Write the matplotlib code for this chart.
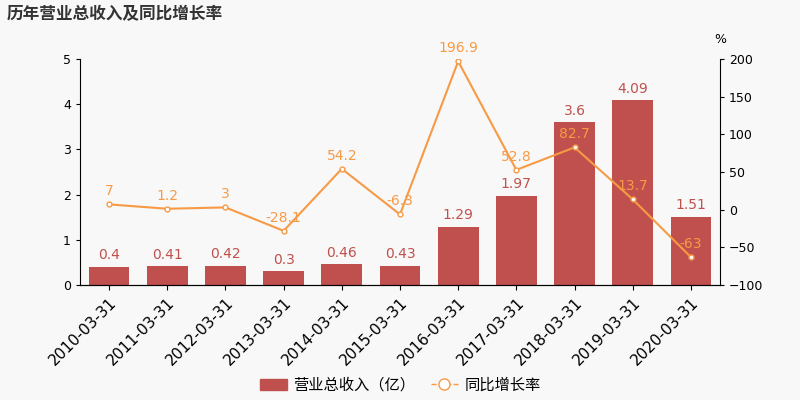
import matplotlib.pyplot as plt
from matplotlib.lines import Line2D
from matplotlib.patches import Patch

plt.rcParams['font.family'] = ['DejaVu Sans', 'Noto Sans CJK SC']

dates = ['2010-03-31', '2011-03-31', '2012-03-31', '2013-03-31', '2014-03-31', '2015-03-31',
         '2016-03-31', '2017-03-31', '2018-03-31', '2019-03-31', '2020-03-31']
revenue = [0.4, 0.41, 0.42, 0.3, 0.46, 0.43, 1.29, 1.97, 3.6, 4.09, 1.51]
growth = [7, 1.2, 3, -28.1, 54.2, -6.3, 196.9, 52.8, 82.7, 13.7, -63]

bar_col = '#c0504d'
line_col = '#f79a45'
bg = '#f8f8f8'

fig = plt.figure(figsize=(8, 4), dpi=100, facecolor=bg)
ax = fig.add_axes([0.1, 0.2875, 0.8, 0.565])
ax.set_facecolor(bg)
x = list(range(len(dates)))
ax.bar(x, revenue, width=0.7, color=bar_col)
for i, v in enumerate(revenue):
    ax.text(i, v + 0.1, f'{v:g}', ha='center', va='bottom', color=bar_col, fontsize=10)
ax.set_ylim(0, 5)
ax.set_xlim(-0.5, len(dates) - 0.5)
ax.set_xticks(x)
ax.set_xticklabels(dates, rotation=45, ha='right', rotation_mode='anchor', fontsize=11)
ax.tick_params(axis='y', labelsize=9, length=3)
for s in ['top', 'right']:
    ax.spines[s].set_visible(False)

ax2 = ax.twinx()
ax2.plot(x, growth, color=line_col, lw=1.5, marker='o', ms=3.5, mfc='white', mec=line_col)
for i, v in enumerate(growth):
    ax2.text(i, v + 8, f'{v:g}', ha='center', va='bottom', color=line_col, fontsize=10)
ax2.set_ylim(-100, 200)
ax2.tick_params(axis='y', labelsize=9, length=3)
for s in ['top', 'left']:
    ax2.spines[s].set_visible(False)
ax2.text(1.0, 1.07, '%', transform=ax2.transAxes, ha='center', fontsize=9)

fig.text(0.008, 0.965, '历年营业总收入及同比增长率', fontsize=12, fontweight='bold', color='#333333', va='center')

handles = [Patch(color=bar_col),
           Line2D([], [], color=line_col, lw=1, ls='--', marker='o', ms=8, mfc='white', mec=line_col)]
fig.legend(handles, ['营业总收入（亿）', '同比增长率'], loc='center', bbox_to_anchor=(0.5, 0.037),
           ncol=2, frameon=False, fontsize=11, handlelength=1.8, columnspacing=1.0, handletextpad=0.4)

fig.savefig('out.png', facecolor=bg)
